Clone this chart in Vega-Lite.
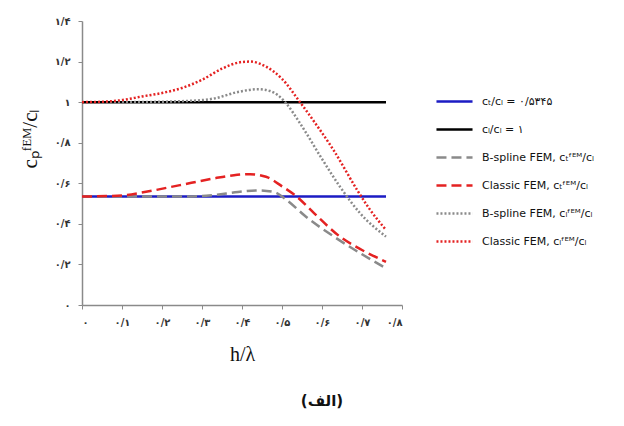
{
  "$schema": "https://vega.github.io/schema/vega-lite/v6.json",
  "autosize": "none",
  "padding": {"left": 82, "top": 21, "right": 222, "bottom": 121},
  "width": 320,
  "height": 284,
  "background": "white",
  "title": {"text": "(الف)", "orient": "bottom", "font": "DejaVu Sans", "fontSize": 15, "fontWeight": "bold", "color": "#111", "dx": 80, "offset": 30},
  "config": {"view": {"stroke": null}},
  "data": {"values": [
    {"s": "cₜ/cₗ = ۰/۵۳۴۵", "x": 0, "y": 0.5345},
    {"s": "cₜ/cₗ = ۰/۵۳۴۵", "x": 0.76, "y": 0.5345},
    {"s": "cₗ/cₗ = ۱", "x": 0, "y": 1},
    {"s": "cₗ/cₗ = ۱", "x": 0.76, "y": 1},
    {"s": "B-spline FEM, cₜᶠᴱᴹ/cₗ", "x": 0, "y": 0.5345},
    {"s": "B-spline FEM, cₜᶠᴱᴹ/cₗ", "x": 0.1, "y": 0.5345},
    {"s": "B-spline FEM, cₜᶠᴱᴹ/cₗ", "x": 0.2, "y": 0.5345},
    {"s": "B-spline FEM, cₜᶠᴱᴹ/cₗ", "x": 0.25, "y": 0.5348},
    {"s": "B-spline FEM, cₜᶠᴱᴹ/cₗ", "x": 0.3, "y": 0.537},
    {"s": "B-spline FEM, cₜᶠᴱᴹ/cₗ", "x": 0.33, "y": 0.542},
    {"s": "B-spline FEM, cₜᶠᴱᴹ/cₗ", "x": 0.39, "y": 0.557},
    {"s": "B-spline FEM, cₜᶠᴱᴹ/cₗ", "x": 0.44, "y": 0.565},
    {"s": "B-spline FEM, cₜᶠᴱᴹ/cₗ", "x": 0.48, "y": 0.557},
    {"s": "B-spline FEM, cₜᶠᴱᴹ/cₗ", "x": 0.51, "y": 0.52},
    {"s": "B-spline FEM, cₜᶠᴱᴹ/cₗ", "x": 0.56, "y": 0.435},
    {"s": "B-spline FEM, cₜᶠᴱᴹ/cₗ", "x": 0.63, "y": 0.337},
    {"s": "B-spline FEM, cₜᶠᴱᴹ/cₗ", "x": 0.7, "y": 0.25},
    {"s": "B-spline FEM, cₜᶠᴱᴹ/cₗ", "x": 0.76, "y": 0.181},
    {"s": "Classic FEM, cₜᶠᴱᴹ/cₗ", "x": 0, "y": 0.5345},
    {"s": "Classic FEM, cₜᶠᴱᴹ/cₗ", "x": 0.1, "y": 0.54},
    {"s": "Classic FEM, cₜᶠᴱᴹ/cₗ", "x": 0.16, "y": 0.558},
    {"s": "Classic FEM, cₜᶠᴱᴹ/cₗ", "x": 0.245, "y": 0.591},
    {"s": "Classic FEM, cₜᶠᴱᴹ/cₗ", "x": 0.33, "y": 0.624},
    {"s": "Classic FEM, cₜᶠᴱᴹ/cₗ", "x": 0.38, "y": 0.64},
    {"s": "Classic FEM, cₜᶠᴱᴹ/cₗ", "x": 0.42, "y": 0.645},
    {"s": "Classic FEM, cₜᶠᴱᴹ/cₗ", "x": 0.46, "y": 0.632},
    {"s": "Classic FEM, cₜᶠᴱᴹ/cₗ", "x": 0.5, "y": 0.585},
    {"s": "Classic FEM, cₜᶠᴱᴹ/cₗ", "x": 0.537, "y": 0.534},
    {"s": "Classic FEM, cₜᶠᴱᴹ/cₗ", "x": 0.58, "y": 0.453},
    {"s": "Classic FEM, cₜᶠᴱᴹ/cₗ", "x": 0.645, "y": 0.337},
    {"s": "Classic FEM, cₜᶠᴱᴹ/cₗ", "x": 0.7, "y": 0.271},
    {"s": "Classic FEM, cₜᶠᴱᴹ/cₗ", "x": 0.76, "y": 0.213},
    {"s": "B-spline FEM, cₗᶠᴱᴹ/cₗ", "x": 0, "y": 1},
    {"s": "B-spline FEM, cₗᶠᴱᴹ/cₗ", "x": 0.1, "y": 1},
    {"s": "B-spline FEM, cₗᶠᴱᴹ/cₗ", "x": 0.2, "y": 1.002},
    {"s": "B-spline FEM, cₗᶠᴱᴹ/cₗ", "x": 0.25, "y": 1.005},
    {"s": "B-spline FEM, cₗᶠᴱᴹ/cₗ", "x": 0.3, "y": 1.01},
    {"s": "B-spline FEM, cₗᶠᴱᴹ/cₗ", "x": 0.33, "y": 1.018},
    {"s": "B-spline FEM, cₗᶠᴱᴹ/cₗ", "x": 0.39, "y": 1.05},
    {"s": "B-spline FEM, cₗᶠᴱᴹ/cₗ", "x": 0.44, "y": 1.064},
    {"s": "B-spline FEM, cₗᶠᴱᴹ/cₗ", "x": 0.47, "y": 1.055},
    {"s": "B-spline FEM, cₗᶠᴱᴹ/cₗ", "x": 0.49, "y": 1.034},
    {"s": "B-spline FEM, cₗᶠᴱᴹ/cₗ", "x": 0.51, "y": 0.995},
    {"s": "B-spline FEM, cₗᶠᴱᴹ/cₗ", "x": 0.545, "y": 0.896},
    {"s": "B-spline FEM, cₗᶠᴱᴹ/cₗ", "x": 0.6, "y": 0.72},
    {"s": "B-spline FEM, cₗᶠᴱᴹ/cₗ", "x": 0.645, "y": 0.583},
    {"s": "B-spline FEM, cₗᶠᴱᴹ/cₗ", "x": 0.695, "y": 0.453},
    {"s": "B-spline FEM, cₗᶠᴱᴹ/cₗ", "x": 0.76, "y": 0.337},
    {"s": "Classic FEM, cₗᶠᴱᴹ/cₗ", "x": 0, "y": 1},
    {"s": "Classic FEM, cₗᶠᴱᴹ/cₗ", "x": 0.05, "y": 1.002},
    {"s": "Classic FEM, cₗᶠᴱᴹ/cₗ", "x": 0.1, "y": 1.01},
    {"s": "Classic FEM, cₗᶠᴱᴹ/cₗ", "x": 0.15, "y": 1.028},
    {"s": "Classic FEM, cₗᶠᴱᴹ/cₗ", "x": 0.2, "y": 1.045},
    {"s": "Classic FEM, cₗᶠᴱᴹ/cₗ", "x": 0.25, "y": 1.07},
    {"s": "Classic FEM, cₗᶠᴱᴹ/cₗ", "x": 0.3, "y": 1.11},
    {"s": "Classic FEM, cₗᶠᴱᴹ/cₗ", "x": 0.35, "y": 1.165},
    {"s": "Classic FEM, cₗᶠᴱᴹ/cₗ", "x": 0.4, "y": 1.198},
    {"s": "Classic FEM, cₗᶠᴱᴹ/cₗ", "x": 0.42, "y": 1.2},
    {"s": "Classic FEM, cₗᶠᴱᴹ/cₗ", "x": 0.46, "y": 1.175},
    {"s": "Classic FEM, cₗᶠᴱᴹ/cₗ", "x": 0.5, "y": 1.115},
    {"s": "Classic FEM, cₗᶠᴱᴹ/cₗ", "x": 0.545, "y": 1.0},
    {"s": "Classic FEM, cₗᶠᴱᴹ/cₗ", "x": 0.58, "y": 0.905},
    {"s": "Classic FEM, cₗᶠᴱᴹ/cₗ", "x": 0.63, "y": 0.76},
    {"s": "Classic FEM, cₗᶠᴱᴹ/cₗ", "x": 0.69, "y": 0.56},
    {"s": "Classic FEM, cₗᶠᴱᴹ/cₗ", "x": 0.72, "y": 0.47},
    {"s": "Classic FEM, cₗᶠᴱᴹ/cₗ", "x": 0.76, "y": 0.37}
  ]},
  "mark": {"type": "line", "interpolate": "monotone", "strokeWidth": 2.5},
  "encoding": {
    "x": {"field": "x", "type": "quantitative", "scale": {"domain": [0, 0.8]},
      "axis": {"values": [0, 0.1, 0.2, 0.3, 0.4, 0.5, 0.6, 0.7, 0.8],
        "labelExpr": "['۰','۰/۱','۰/۲','۰/۳','۰/۴','۰/۵','۰/۶','۰/۷','۰/۸'][round(datum.value*10)]",
        "title": "h/λ", "titleFont": "Liberation Serif", "titleFontSize": 20, "titleFontWeight": "normal", "titleColor": "#111", "titlePadding": 17,
        "labelFont": "DejaVu Sans", "labelFontSize": 10, "labelFontWeight": "bold", "labelColor": "#333", "labelPadding": 8,
        "domainColor": "#8a8a8a", "domainWidth": 1.5, "tickColor": "#8a8a8a", "tickSize": 4, "grid": false}},
    "y": {"field": "y", "type": "quantitative", "scale": {"domain": [0, 1.4]},
      "axis": {"values": [0, 0.2, 0.4, 0.6, 0.8, 1, 1.2, 1.4],
        "labelExpr": "['۰','۰/۲','۰/۴','۰/۶','۰/۸','۱','۱/۲','۱/۴'][round(datum.value*5)]",
        "title": "cₚᶠᴱᴹ/cₗ", "titleFont": "Liberation Serif", "titleFontSize": 21, "titleFontWeight": "normal", "titleColor": "#111", "titleY": 117, "titleX": -42,
        "labelFont": "DejaVu Sans", "labelFontSize": 10, "labelFontWeight": "bold", "labelColor": "#333", "labelPadding": 8,
        "domainColor": "#8a8a8a", "domainWidth": 1.5, "tickColor": "#8a8a8a", "tickSize": 4, "grid": false}},
    "color": {"field": "s", "type": "nominal",
      "scale": {"domain": ["cₜ/cₗ = ۰/۵۳۴۵", "cₗ/cₗ = ۱", "B-spline FEM, cₜᶠᴱᴹ/cₗ", "Classic FEM, cₜᶠᴱᴹ/cₗ", "B-spline FEM, cₗᶠᴱᴹ/cₗ", "Classic FEM, cₗᶠᴱᴹ/cₗ"],
        "range": ["#1c1cc4", "#000000", "#8a8a8a", "#e42222", "#8a8a8a", "#e42222"]},
      "legend": {"title": null, "orient": "none", "legendX": 353, "legendY": 61, "symbolType": "stroke", "symbolSize": 1300, "symbolStrokeWidth": 2.5, "labelFont": "DejaVu Sans", "labelFontSize": 11, "labelColor": "#111", "labelLimit": 300, "rowPadding": 3, "labelOffset": 8}},
    "strokeDash": {"field": "s", "type": "nominal",
      "scale": {"domain": ["cₜ/cₗ = ۰/۵۳۴۵", "cₗ/cₗ = ۱", "B-spline FEM, cₜᶠᴱᴹ/cₗ", "Classic FEM, cₜᶠᴱᴹ/cₗ", "B-spline FEM, cₗᶠᴱᴹ/cₗ", "Classic FEM, cₗᶠᴱᴹ/cₗ"],
        "range": [[1, 0], [1, 0], [10, 5], [10, 5], [2, 2], [2, 2]]}},
    "order": {"field": "x", "type": "quantitative"}
  }
}
